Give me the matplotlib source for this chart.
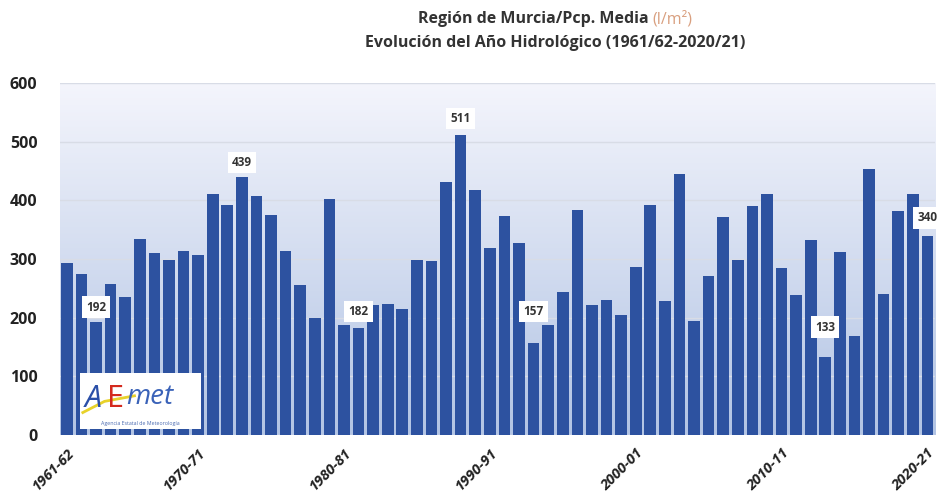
import matplotlib.pyplot as plt
import numpy as np

# Precipitación media anual (l/m2), Región de Murcia, años hidrológicos
years = ["%d-%02d" % (y, (y + 1) % 100) for y in range(1961, 2021)]
precip = [294, 274, 192, 258, 235, 334, 311, 298, 314, 307,
          411, 392, 439, 408, 375, 314, 255, 200, 402, 188,
          182, 221, 224, 215, 298, 297, 431, 511, 418, 318,
          373, 328, 157, 188, 244, 383, 221, 230, 205, 287,
          392, 228, 445, 195, 271, 371, 298, 391, 411, 285,
          238, 332, 133, 312, 168, 453, 240, 382, 411, 340]
labeled = [2, 12, 20, 27, 32, 52, 59]      # indices with value box
label_dy = [26, 26, 28, 29, 54, 51, 30]    # box offset above bar
tick_idx = [0, 9, 19, 29, 39, 49, 59]

plt.rcParams['font.family'] = ['Open Sans', 'DejaVu Sans']

fig = plt.figure(figsize=(9.46, 4.98), dpi=100)
ax = fig.add_axes([0.063, 0.1265, 0.925, 0.7068])

# background gradient (white-ish at top, light blue at bottom)
top = np.array([244, 245, 252]) / 255
bot = np.array([178, 196, 228]) / 255
t = np.linspace(0, 1, 256)[:, None]
grad = (top * (1 - t) + bot * t).reshape(256, 1, 3)
ax.imshow(grad, extent=[-0.5, 59.5, 0, 600], aspect='auto', zorder=0, origin='upper')

x = np.arange(len(precip))
ax.bar(x, precip, width=0.8, color='#2d52a0', zorder=2)

ax.set_xlim(-0.5, 59.5)
ax.set_ylim(0, 600)
ax.set_yticks(range(0, 601, 100))
ax.yaxis.grid(True, color='#d8dce6', lw=1, zorder=1)
ax.set_axisbelow(True)
for s in ax.spines.values():
    s.set_visible(False)
ax.tick_params(axis='both', length=0)
ax.tick_params(axis='y', pad=16)
ax.tick_params(axis='x', pad=8)
for lab in ax.get_yticklabels():
    lab.set_fontweight('bold')
    lab.set_fontsize(11.5)
    lab.set_color('#222222')

ax.set_xticks(tick_idx)
ax.set_xticklabels([years[i] for i in tick_idx], rotation=45, ha='right',
                   rotation_mode='anchor', fontsize=10.5, fontweight='bold', color='#222222')
for lab in ax.get_xticklabels():
    lab.set_style('italic')

for i, dy in zip(labeled, label_dy):
    ax.text(i, precip[i] + dy, str(precip[i]), ha='center', va='center',
            fontsize=8.5, fontweight='bold', color='#333333', zorder=4, clip_on=False,
            bbox=dict(boxstyle='square,pad=0.35', fc='white', ec='none'))

# title, first line in two colours, centred as a whole
cx = 0.587
t1 = fig.text(cx, 0.962, "Región de Murcia/Pcp. Media ", ha='left', va='center',
              fontsize=11.5, fontweight='bold', color='#333333')
t2 = fig.text(cx, 0.962, "(l/m²)", ha='left', va='center', fontsize=11.5, color='#d9a080')
r = fig.canvas.get_renderer()
w1 = t1.get_window_extent(r).width / fig.bbox.width
w2 = t2.get_window_extent(r).width / fig.bbox.width
t1.set_x(cx - (w1 + w2) / 2)
t2.set_x(cx - (w1 + w2) / 2 + w1)
fig.text(cx, 0.914, "Evolución del Año Hidrológico (1961/62-2020/21)", ha='center',
         va='center', fontsize=11.5, fontweight='bold', color='#333333')

# AEMET logo box
lax = fig.add_axes([0.085, 0.138, 0.127, 0.112])
lax.set_xlim(0, 1)
lax.set_ylim(0, 1)
lax.set_facecolor('white')
lax.set_xticks([])
lax.set_yticks([])
for s in lax.spines.values():
    s.set_visible(False)
lax.text(0.04, 0.55, "A", fontsize=22, color='#2a4fa8', style='italic', va='center')
lax.text(0.22, 0.55, "E", fontsize=22, color='#d42a1e', va='center')
lax.text(0.38, 0.58, "met", fontsize=20, color='#3a62b8', style='italic', va='center')
lax.plot([0.02, 0.2, 0.45], [0.3, 0.5, 0.6], color='#e8d22a', lw=2)
lax.text(0.5, 0.1, "Agencia Estatal de Meteorología", fontsize=3.8, color='#4a6ab0',
         ha='center', va='center')

fig.savefig("out.png", dpi=100, facecolor='white')
